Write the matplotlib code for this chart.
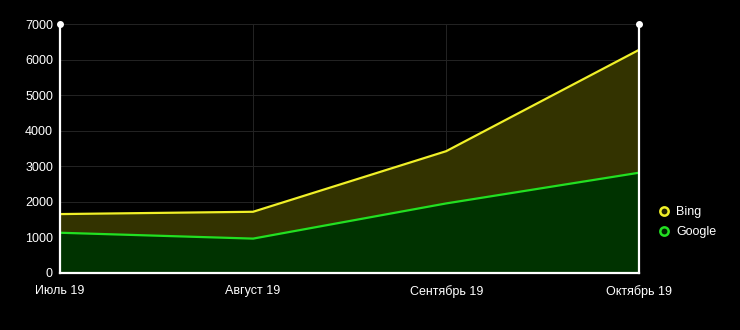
import matplotlib.pyplot as plt
from matplotlib.lines import Line2D

plt.rcParams['font.family'] = ['Liberation Sans', 'DejaVu Sans']

months = ["Июль 19", "Август 19", "Сентябрь 19", "Октябрь 19"]
google = [1130, 965, 1955, 2820]
bing = [1655, 1720, 3425, 6280]

fig = plt.figure(figsize=(7.4, 3.3), dpi=100, facecolor="black")
ax = fig.add_axes([0.081, 0.173, 0.783, 0.754], facecolor="black")

x = range(len(months))
ax.fill_between(x, 0, google, color="#003300", lw=0, zorder=1)
ax.fill_between(x, google, bing, color="#333300", lw=0, zorder=1)
ax.plot(x, bing, color="#f0f028", lw=1.6, zorder=3)
ax.plot(x, google, color="#22e022", lw=1.6, zorder=3)

ax.set_xlim(0, 3)
ax.set_ylim(0, 7000)
ax.set_yticks(range(0, 7001, 1000))
ax.set_xticks(list(x))
ax.set_xticklabels(months)
ax.grid(True, color="#242424", lw=0.7, zorder=0)
ax.set_axisbelow(True)

ax.spines["top"].set_visible(False)
for s in ["left", "bottom", "right"]:
    ax.spines[s].set_color("white")
    ax.spines[s].set_linewidth(1.6)
    ax.spines[s].set_zorder(4)
ax.plot([0, 3], [7000, 7000], "o", color="white", ms=4, clip_on=False, zorder=5)

ax.tick_params(colors="white", labelsize=9, length=0, pad=5)
ax.tick_params(axis="x", pad=9)

handles = [
    Line2D([], [], ls="none", marker="o", ms=6, mfc="#222200", mec="#f0f028", mew=1.8, label="Bing"),
    Line2D([], [], ls="none", marker="o", ms=6, mfc="#002200", mec="#22e022", mew=1.8, label="Google"),
]
leg = ax.legend(handles=handles, loc="center left", bbox_to_anchor=(1.01, 0.204),
                frameon=False, fontsize=9, handletextpad=0.4, labelspacing=0.6,
                handlelength=1.2)
for t in leg.get_texts():
    t.set_color("white")

fig.savefig("out.png", dpi=100, facecolor="black")
